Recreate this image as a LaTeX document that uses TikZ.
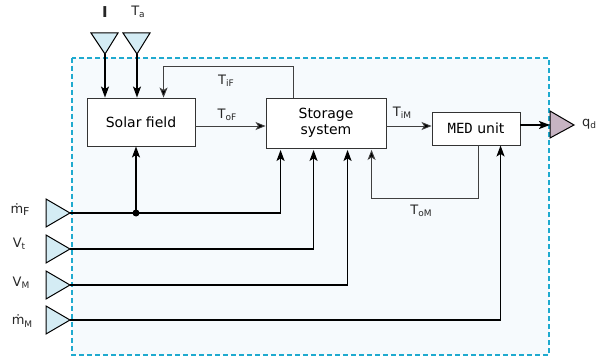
\documentclass[tikz,border=0pt]{standalone}
\usepackage{fontspec}
\setmainfont{DejaVu Sans}
\newfontfamily\monof{DejaVu Sans Mono}
\usetikzlibrary{arrows.meta}
\definecolor{dashc}{HTML}{1FAACF}
\definecolor{bgc}{HTML}{F6FAFD}
\definecolor{trif}{HTML}{D4ECF4}
\definecolor{outf}{HTML}{C7B4C3}
\definecolor{boxc}{HTML}{333333}
\definecolor{thinc}{HTML}{404040}
\newcommand{\sbs}[1]{\raisebox{-2.5pt}{\fontsize{9}{10}\selectfont #1}}
\begin{document}
\begin{tikzpicture}[x=1pt,y=-1pt, font=\fontsize{14}{16}\selectfont,
 blk/.style={draw=boxc, line width=0.9pt, fill=white, inner sep=0pt, align=center},
 sig/.style={line width=1.5pt, -{Stealth[length=11pt,width=8pt,inset=2.5pt]}},
 fb/.style={draw=thinc, line width=0.9pt, -{Stealth[length=10pt,width=8pt,inset=2.5pt,fill=black]}},
 tri/.style={draw=black, line width=1pt, fill=trif, line join=miter},
 lbl/.style={font=\fontsize{13}{15}\selectfont, inner sep=0pt, text=black!85}]

\useasboundingbox (0,0) rectangle (602,358);
\draw[dashc, line width=1.8pt, dash pattern=on 5pt off 3pt, fill=bgc] (72,58) rectangle (549,355);

% blocks
\node[blk, minimum width=108pt, minimum height=48pt] (sf) at (141,122) {Solar field};
\node[blk, minimum width=120pt, minimum height=50pt] (st) at (326,123) {Storage\\system};
\node[blk, minimum width=88pt, minimum height=33pt] (med) at (476,128.5) {{\monof MED} unit};

% triangles (inputs / output)
\draw[tri] (91,33) -- (118,33) -- (105,54) -- cycle;
\coordinate (tI) at (105,54);
\draw[tri] (123,33) -- (150,33) -- (137,54) -- cycle;
\coordinate (tTa) at (137,54);
\draw[tri] (46,199) -- (70,213) -- (46,227) -- cycle;
\coordinate (imF) at (70,213);
\draw[tri] (46,235) -- (70,249) -- (46,263) -- cycle;
\coordinate (iVt) at (70,249);
\draw[tri] (46,271) -- (70,285) -- (46,299) -- cycle;
\coordinate (iVM) at (70,285);
\draw[tri] (46,306) -- (70,320) -- (46,334) -- cycle;
\coordinate (imM) at (70,320);
\draw[tri, fill=outf] (550,111) -- (574,125) -- (550,138) -- cycle;
\coordinate (qb) at (550,125);

% labels of inputs / output
\node[lbl, font=\fontsize{15}{16}\selectfont\bfseries] (lI) at (105,12) {I};
\node[lbl] (lTa) at (138,12) {T\sbs{a}};
\node[lbl] (lqd) at (589,124) {q\sbs{d}};
\node[lbl] (lmF) at (20,210) {ṁ\raisebox{-2pt}{\fontsize{11}{12}\selectfont F}};
\node[lbl] (lVt) at (19,244) {V\sbs{t}};
\node[lbl] (lVM) at (21,283) {V\sbs{M}};
\node[lbl] (lmM) at (22,321) {ṁ\sbs{M}};

% top inputs
\draw[sig] (tI) -- (tI |- sf.north);
\draw[sig] (tTa) -- (tTa |- sf.north);

% feedback T_iF
\draw[fb] ([xshift=28pt]st.north west) -- ++(0,-31) -| ([xshift=77pt]sf.north west);
\node[lbl] (lTiF) at (226,81) {T\sbs{iF}};

% T_oF
\coordinate (f1) at ([yshift=-3pt]st.west);
\draw[fb] (f1 -| sf.east) -- (f1);
\node[lbl] (lToF) at (227,115) {T\sbs{oF}};

% T_iM
\coordinate (m1) at ([yshift=2.5pt]med.west);
\draw[fb] (m1 -| st.east) -- (m1);
\node[lbl] (lTiM) at (402,113) {T\sbs{iM}};

% T_oM
\draw[fb] ([xshift=2pt]med.south) -- ++(0,53) -| ([xshift=106pt,yshift=-1.5pt]st.south west);
\node[lbl] (lToM) at (421,211) {T\sbs{oM}};

% output q_d
\coordinate (q1) at (med.east |- qb);
\draw[sig] (q1) -- (qb);

% bottom inputs
\coordinate (jn) at (136,213);
\draw[sig] (imF) -| ([xshift=15pt,yshift=-1.5pt]st.south west);
\draw[sig] (jn) -- (jn |- sf.south);
\fill (jn) circle (3.5pt);
\draw[sig] (iVt) -| ([xshift=48pt,yshift=-1.5pt]st.south west);
\draw[sig] (iVM) -| ([xshift=82pt,yshift=-1.5pt]st.south west);
\draw[sig] (imM) -| ([xshift=69pt]med.south west);
\end{tikzpicture}
\end{document}
